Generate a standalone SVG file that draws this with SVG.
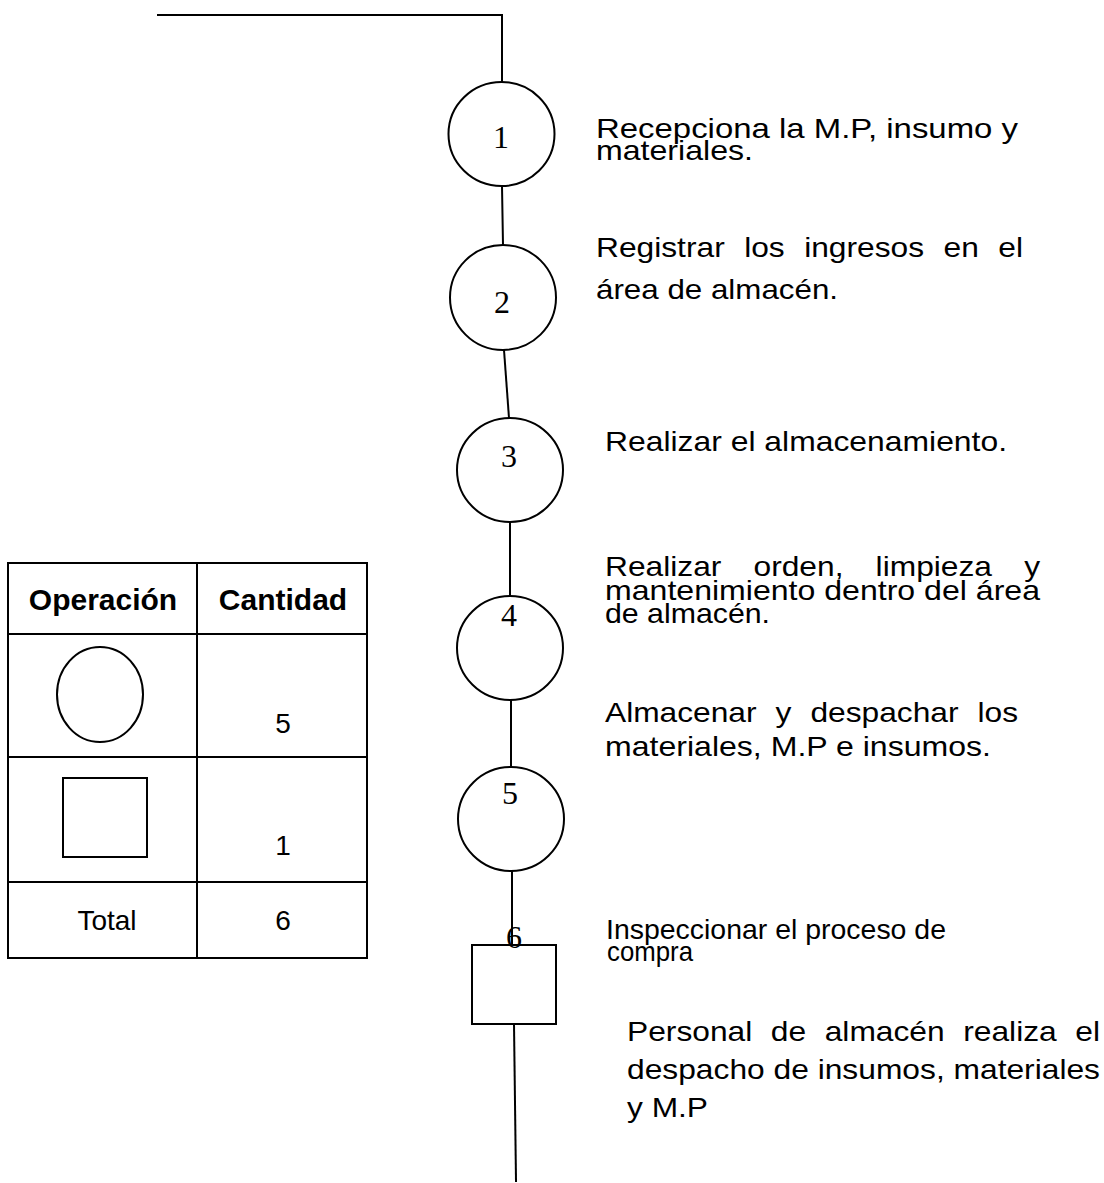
<svg xmlns="http://www.w3.org/2000/svg" width="1104" height="1183" viewBox="0 0 1104 1183">
  <style>
    .bg { fill: #ffffff; }
    .line { stroke: #000; stroke-width: 2; fill: none; stroke-linecap: square; }
    .op { fill: #fff; stroke: #000; stroke-width: 2; }
    .num { font-family: "Liberation Serif", "Times New Roman", serif; font-size: 32px; fill: #000; text-anchor: middle; }
    .desc { font-family: "Liberation Sans", Arial, sans-serif; font-size: 28px; fill: #000; }
    .cell { fill: none; stroke: #000; stroke-width: 2; }
    .th { font-family: "Liberation Sans", Arial, sans-serif; font-size: 30px; font-weight: bold; fill: #000; text-anchor: middle; }
    .td { font-family: "Liberation Sans", Arial, sans-serif; font-size: 28px; fill: #000; text-anchor: middle; }
    .icon { fill: none; stroke: #000; stroke-width: 2; }
  </style>

  <rect class="bg" x="0" y="0" width="1104" height="1183"/>

  <!-- flow connectors -->
  <g id="connectors">
    <polyline class="line" points="158,15 502,15 502,82"/>
    <line class="line" x1="502" y1="186" x2="503" y2="245"/>
    <line class="line" x1="504" y1="350" x2="509" y2="418"/>
    <line class="line" x1="510" y1="522" x2="510" y2="596"/>
    <line class="line" x1="511" y1="700" x2="511" y2="767"/>
    <line class="line" x1="512" y1="871" x2="512" y2="945"/>
    <line class="line" x1="514" y1="1024" x2="516" y2="1181"/>
  </g>

  <!-- operations -->
  <g id="op1">
    <ellipse class="op" cx="501.5" cy="134" rx="53" ry="52"/>
    <text class="num" x="501" y="148">1</text>
  </g>
  <g id="op2">
    <ellipse class="op" cx="503" cy="297.5" rx="53" ry="52.5"/>
    <text class="num" x="502" y="313">2</text>
  </g>
  <g id="op3">
    <ellipse class="op" cx="510" cy="470" rx="53" ry="52"/>
    <text class="num" x="509" y="467">3</text>
  </g>
  <g id="op4">
    <ellipse class="op" cx="510" cy="648" rx="53" ry="52"/>
    <text class="num" x="509" y="626">4</text>
  </g>
  <g id="op5">
    <ellipse class="op" cx="511" cy="819" rx="53" ry="52"/>
    <text class="num" x="510" y="804">5</text>
  </g>
  <!-- inspection -->
  <g id="insp6">
    <rect class="op" x="472" y="945" width="84" height="79" stroke-width="2.5"/>
    <text class="num" x="514" y="948">6</text>
  </g>

  <!-- step descriptions -->
  <g id="desc1">
    <text class="desc" x="596" y="138" textLength="422" lengthAdjust="spacingAndGlyphs">Recepciona la M.P, insumo y</text>
    <text class="desc" x="596" y="160" textLength="157" lengthAdjust="spacingAndGlyphs">materiales.</text>
  </g>
  <g id="desc2">
    <text class="desc" x="596" y="257" word-spacing="9.4" textLength="427" lengthAdjust="spacingAndGlyphs">Registrar los ingresos en el</text>
    <text class="desc" x="596" y="299" textLength="242" lengthAdjust="spacingAndGlyphs">área de almacén.</text>
  </g>
  <g id="desc3">
    <text class="desc" x="605" y="451" textLength="402" lengthAdjust="spacingAndGlyphs">Realizar el almacenamiento.</text>
  </g>
  <g id="desc4">
    <text class="desc" x="605" y="576" word-spacing="20.6" textLength="435" lengthAdjust="spacingAndGlyphs">Realizar orden, limpieza y</text>
    <text class="desc" x="605" y="600" textLength="435" lengthAdjust="spacingAndGlyphs">mantenimiento dentro del área</text>
    <text class="desc" x="605" y="623" textLength="165" lengthAdjust="spacingAndGlyphs">de almacén.</text>
  </g>
  <g id="desc5">
    <text class="desc" x="605" y="722" word-spacing="9" textLength="413" lengthAdjust="spacingAndGlyphs">Almacenar y despachar los</text>
    <text class="desc" x="605" y="756" textLength="386" lengthAdjust="spacingAndGlyphs">materiales, M.P e insumos.</text>
  </g>
  <g id="desc6">
    <text class="desc" x="606" y="939" textLength="340" lengthAdjust="spacingAndGlyphs">Inspeccionar el proceso de</text>
    <text class="desc" x="607" y="961" textLength="86" lengthAdjust="spacingAndGlyphs">compra</text>
  </g>
  <g id="desc7">
    <text class="desc" x="627" y="1041" word-spacing="8.6" textLength="473" lengthAdjust="spacingAndGlyphs">Personal de almacén realiza el</text>
    <text class="desc" x="627" y="1079" textLength="473" lengthAdjust="spacingAndGlyphs">despacho de insumos, materiales</text>
    <text class="desc" x="627" y="1117" textLength="81" lengthAdjust="spacingAndGlyphs">y M.P</text>
  </g>

  <!-- summary table -->
  <g id="summary">
    <rect class="cell" x="8" y="563" width="359" height="395"/>
    <line class="cell" x1="197" y1="563" x2="197" y2="958"/>
    <line class="cell" x1="8" y1="634" x2="367" y2="634"/>
    <line class="cell" x1="8" y1="757" x2="367" y2="757"/>
    <line class="cell" x1="8" y1="882" x2="367" y2="882"/>
    <text class="th" x="103" y="610">Operación</text>
    <text class="th" x="283" y="610">Cantidad</text>
    <ellipse class="icon" cx="100" cy="694.5" rx="43" ry="47.5"/>
    <text class="td" x="283" y="733">5</text>
    <rect class="icon" x="63" y="778" width="84" height="79"/>
    <text class="td" x="283" y="855">1</text>
    <text class="td" x="107" y="930">Total</text>
    <text class="td" x="283" y="930">6</text>
  </g>
</svg>
